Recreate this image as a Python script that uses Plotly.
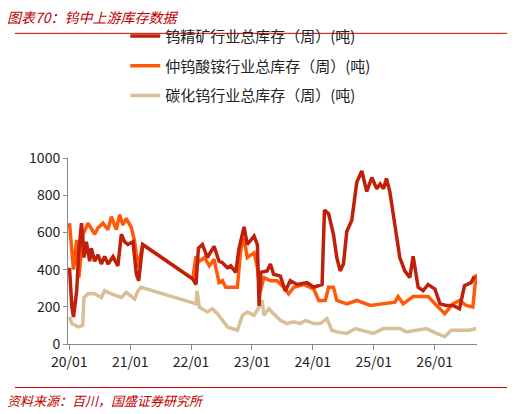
import plotly.graph_objects as go

# 钨精矿行业总库存（周）
ore_dates = ["2020-01-03", "2020-01-17", "2020-01-27", "2020-02-15", "2020-02-28", "2020-03-15", "2020-03-30",
             "2020-04-13", "2020-05-03", "2020-05-13", "2020-06-02", "2020-06-22", "2020-07-12", "2020-08-01",
             "2020-08-21", "2020-09-20", "2020-10-19", "2020-11-09", "2020-11-28", "2020-12-18", "2021-01-18",
             "2021-02-07", "2021-02-21", "2021-03-17", "2022-01-11", "2022-01-31", "2022-02-14", "2022-03-10",
             "2022-04-09", "2022-05-19", "2022-06-18", "2022-07-08", "2022-08-07", "2022-08-27", "2022-09-26",
             "2022-10-16", "2022-11-15", "2022-12-04", "2023-01-14", "2023-02-03", "2023-02-13", "2023-02-23",
             "2023-04-02", "2023-04-22", "2023-05-11", "2023-06-21", "2023-07-20", "2023-08-19", "2023-09-29",
             "2023-11-28", "2024-01-07", "2024-02-26", "2024-03-11", "2024-04-05", "2024-05-04", "2024-05-24",
             "2024-06-13", "2024-07-03", "2024-07-23", "2024-08-22", "2024-09-21", "2024-10-21", "2024-11-20",
             "2024-12-20", "2025-01-19", "2025-02-08", "2025-02-28", "2025-03-18", "2025-04-07", "2025-04-27",
             "2025-05-17", "2025-06-06", "2025-07-06", "2025-08-05", "2025-08-25", "2025-09-24", "2025-10-24",
             "2025-11-23", "2026-01-03", "2026-02-02", "2026-03-11", "2026-04-20", "2026-05-30", "2026-06-29",
             "2026-08-08", "2026-08-28"]
ore_vals = [410, 200, 145, 285, 500, 650, 465, 550, 445, 515, 445, 480, 430, 470, 430, 470, 420, 590, 550, 535,
            550, 375, 340, 535, 350, 320, 515, 535, 465, 525, 445, 437, 410, 420, 385, 515, 630, 535, 580, 535,
            205, 385, 393, 430, 375, 365, 285, 340, 320, 330, 305, 320, 720, 700, 590, 465, 393, 430, 605, 665,
            870, 930, 820, 895, 835, 860, 835, 890, 820, 695, 570, 465, 393, 357, 472, 305, 287, 320, 295, 216,
            207, 207, 190, 313, 330, 365]

# 仲钨酸铵行业总库存（周）
apt_dates = ["2020-01-03", "2020-01-17", "2020-01-27", "2020-02-15", "2020-02-28", "2020-03-25", "2020-04-23",
             "2020-06-02", "2020-06-22", "2020-07-22", "2020-08-21", "2020-09-10", "2020-10-10", "2020-10-30",
             "2020-11-18", "2020-12-08", "2021-01-08", "2021-01-28", "2021-02-17", "2021-03-17", "2022-01-11",
             "2022-01-31", "2022-02-20", "2022-03-22", "2022-04-21", "2022-05-19", "2022-06-18", "2022-07-08",
             "2022-07-28", "2022-10-06", "2022-10-26", "2022-11-15", "2022-12-04", "2023-01-14", "2023-02-03",
             "2023-02-19", "2023-03-14", "2023-04-22", "2023-06-01", "2023-07-10", "2023-08-09", "2023-09-09",
             "2023-11-08", "2024-01-07", "2024-02-06", "2024-03-16", "2024-04-05", "2024-05-04", "2024-05-24",
             "2024-07-23", "2024-09-21", "2024-12-10", "2025-02-28", "2025-05-08", "2025-05-27", "2025-06-26",
             "2025-08-25", "2025-11-23", "2026-01-13", "2026-03-03", "2026-04-20", "2026-05-30", "2026-07-09",
             "2026-08-18", "2026-09-07"]
apt_vals = [650, 500, 400, 560, 357, 590, 650, 590, 625, 650, 615, 685, 615, 695, 640, 675, 625, 550, 410, 535,
            350, 472, 445, 465, 420, 455, 330, 340, 305, 305, 508, 570, 465, 490, 410, 278, 357, 340, 340, 305,
            269, 305, 320, 295, 234, 234, 305, 305, 234, 216, 234, 207, 216, 225, 255, 216, 255, 255, 207, 163,
            216, 234, 207, 198, 375]

# 碳化钨行业总库存（周）
wc_dates = ["2020-01-03", "2020-01-17", "2020-02-25", "2020-03-22", "2020-03-30", "2020-04-23", "2020-06-02",
            "2020-07-12", "2020-08-01", "2020-09-10", "2020-11-09", "2020-12-08", "2021-01-28", "2021-02-17",
            "2021-03-07", "2022-01-31", "2022-02-06", "2022-02-20", "2022-04-09", "2022-05-09", "2022-06-08",
            "2022-07-08", "2022-08-07", "2022-10-06", "2022-11-05", "2022-12-04", "2023-01-14", "2023-02-13",
            "2023-03-04", "2023-03-14", "2023-04-12", "2023-05-11", "2023-06-21", "2023-07-30", "2023-09-09",
            "2023-10-19", "2023-11-18", "2024-01-07", "2024-02-16", "2024-03-26", "2024-04-25", "2024-05-24",
            "2024-07-23", "2024-09-11", "2024-12-10", "2024-12-30", "2025-02-28", "2025-06-06", "2025-07-16",
            "2025-11-13", "2026-01-13", "2026-03-03", "2026-04-10", "2026-05-30", "2026-07-29", "2026-09-07"]
wc_vals = [145, 110, 92, 100, 250, 270, 270, 250, 287, 270, 250, 278, 242, 287, 305, 216, 287, 198, 172, 190,
           163, 127, 92, 74, 154, 172, 154, 198, 234, 154, 190, 163, 127, 110, 119, 110, 127, 110, 110, 136,
           74, 65, 57, 83, 65, 57, 83, 83, 65, 83, 57, 39, 74, 74, 74, 83]

tick_vals = ["2020-01-01", "2021-01-01", "2022-01-01", "2023-01-01", "2024-01-01", "2025-01-01", "2026-01-01"]
tick_text = ["20/01", "21/01", "22/01", "23/01", "24/01", "25/01", "26/01"]

font = "Noto Sans CJK SC"
fig = go.Figure()
fig.add_trace(go.Scatter(x=wc_dates, y=wc_vals, mode="lines", name="碳化钨行业总库存（周）(吨)",
                         line=dict(color="#D9BF97", width=3.5), legend="legend3"))
fig.add_trace(go.Scatter(x=apt_dates, y=apt_vals, mode="lines", name="仲钨酸铵行业总库存（周）(吨)",
                         line=dict(color="#FF5A0A", width=3.5), legend="legend2"))
fig.add_trace(go.Scatter(x=ore_dates, y=ore_vals, mode="lines", name="钨精矿行业总库存（周）(吨)",
                         line=dict(color="#C0200A", width=3.5), legend="legend"))

leg = dict(x=0.14, xanchor="left", yanchor="middle", bgcolor="rgba(0,0,0,0)",
           font=dict(family=font, size=15, color="#222"))
fig.update_layout(
    width=515, height=414,
    margin=dict(l=60, r=46, t=148, b=78),
    paper_bgcolor="white", plot_bgcolor="white",
    font=dict(family=font, size=14, color="#222"),
    showlegend=True,
    legend=dict(leg, y=(344 - 33) / 188),
    legend2=dict(leg, y=(344 - 63) / 188),
    legend3=dict(leg, y=(344 - 93) / 188),
    xaxis=dict(range=["2019-12-25", "2026-09-12"], tickvals=tick_vals, ticktext=tick_text,
               showline=True, linecolor="#888", ticks="outside", ticklen=5, tickcolor="#888",
               showgrid=False, tickfont=dict(size=14)),
    yaxis=dict(range=[0, 1000], dtick=200, showline=True, linecolor="#888", ticks="outside",
               ticklen=4, tickcolor="#888", showgrid=False, tickfont=dict(size=14)),
    shapes=[
        dict(type="line", xref="paper", yref="paper", x0=-0.13, x1=1.09,
             y0=(344 - 30) / 188, y1=(344 - 30) / 188, line=dict(color="#C00000", width=1)),
        dict(type="line", xref="paper", yref="paper", x0=-0.13, x1=1.09,
             y0=(344 - 388) / 188, y1=(344 - 388) / 188, line=dict(color="#C00000", width=1)),
    ],
    annotations=[
        dict(text="<i>图表70：钨中上游库存数据</i>", xref="paper", yref="paper", x=-0.155,
             y=(344 - 13) / 188, xanchor="left", yanchor="middle", showarrow=False,
             font=dict(family=font, size=14, color="#C00000")),
        dict(text="<i>资料来源：百川，国盛证券研究所</i>", xref="paper", yref="paper", x=-0.155,
             y=(344 - 401) / 188, xanchor="left", yanchor="middle", showarrow=False,
             font=dict(family=font, size=13, color="#C00000")),
    ],
)

fig.write_html("out.html")
